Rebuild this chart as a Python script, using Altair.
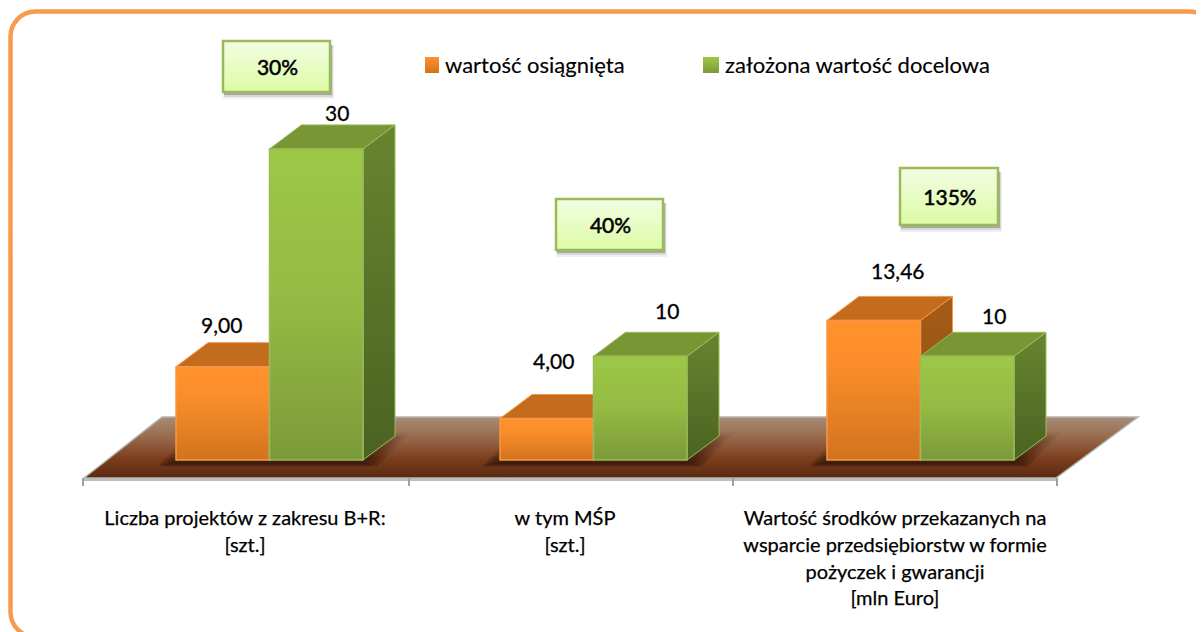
import altair as alt
import pandas as pd

# ---------- data ----------
CATEGORIES = [
    ["Liczba projektów z zakresu B+R:", "[szt.]"],
    ["w tym MŚP", "[szt.]"],
    ["Wartość środków przekazanych na", "wsparcie przedsiębiorstw w formie", "pożyczek i gwarancji", "[mln Euro]"],
]
ACHIEVED = [9.0, 4.0, 13.46]
TARGET = [30, 10, 10]
ACHIEVED_LABELS = ["9,00", "4,00", "13,46"]
TARGET_LABELS = ["30", "10", "10"]
PERCENT = ["30%", "40%", "135%"]
LEGEND = ["wartość osiągnięta", "założona wartość docelowa"]

# ---------- layout (page pixels) ----------
W, H = 1188, 624
BASE_Y = 460.0
PX_PER_UNIT = 10.37
GROUP_LEFT = [176.0, 500.0, 827.0]
BAR_W = 93.5
DX, DY = 32.0, 24.0
TICKS = [83, 409, 733, 1057]
FONT = "Lato"


def v(py):
    return (BASE_Y - py) / PX_PER_UNIT


xs = alt.Scale(domain=[8, 8 + W], range=[0, W], zero=False, nice=False)
ys = alt.Scale(domain=[v(8 + H), v(8)], range=[H, 0], zero=False, nice=False)


def enc(x2=False, y2=False, **kw):
    e = dict(x=alt.X("x:Q", scale=xs, axis=None), y=alt.Y("y:Q", scale=ys, axis=None))
    if x2:
        e["x2"] = alt.X2("x2:Q")
    if y2:
        e["y2"] = alt.Y2("y2:Q")
    e.update(kw)
    return e


def grad(*stops):
    return alt.Gradient(
        gradient="linear", x1=0, x2=0, y1=0, y2=1,
        stops=[alt.GradientStop(offset=o, color=c) for o, c in stops],
    )


def poly(points, **mark):
    df = pd.DataFrame(points, columns=["x", "y", "y2"])
    return alt.Chart(df).mark_area(**mark).encode(**enc(y2=True))


def rect(x0, x1, y0, y1, **mark):
    df = pd.DataFrame([dict(x=x0, x2=x1, y=y0, y2=y1)])
    return alt.Chart(df).mark_rect(**mark).encode(**enc(x2=True, y2=True))


def text(x, y, s, **mark):
    df = pd.DataFrame([dict(x=x, y=y, t=s)])
    opts = dict(font=FONT, color="black", baseline="middle", align="center")
    opts.update(mark)
    return alt.Chart(df).mark_text(**opts).encode(**enc(), text="t:N")


layers = []

# rounded frame, running past the picture's right and bottom edges
layers.append(rect(10.5, 1214, v(11.5), v(637), fill="white", stroke="#F79B4C",
                   strokeWidth=4.5, cornerRadius=25, clip=True))

# floor
FT, FB = v(417), v(478)
layers.append(poly([(84, FB, FB), (162, FT, FB), (1056, FT, FB), (1138, FT, FT)],
                   fill=grad((0, "#A88C78"), (0.3, "#9A6E50"), (0.7, "#7A3C1C"), (1, "#5A2A12")),
                   stroke="#B4B4B4", strokeWidth=1.5))

# floor shadows: nested, faint layers give the soft edge
for left in GROUP_LEFT:
    r = left + 2 * BAR_W
    for grow in (12, 8, 4, 0):
        a, b = v(464 + grow * 0.2), v(437 - grow * 0.4)
        layers.append(poly([(left - 6 - grow, a, a), (left + 26 - grow, b, a), (r + 2 + grow, b, a), (r + 36 + grow, b, b)],
                           fill=grad((0, "rgba(50,22,8,0.04)"), (0.6, "rgba(50,22,8,0.16)"),
                                     (1, "rgba(50,22,8,0.38)"))))

# axis line and ticks
layers.append(rect(83, 1057, FB, v(481), fill="#BDBDBD"))
for t in TICKS:
    layers.append(rect(t - 1, t + 1, v(478), v(486), fill="#A0A0A0"))


# bars
def bars(values, offset, face, top, side, edge):
    out = []
    for left, val in zip(GROUP_LEFT, values):
        x0 = left + offset
        x1 = x0 + BAR_W
        d = DY / PX_PER_UNIT
        out.append(poly([(x1, val, 0), (x1 + DX, val + d, d)],
                        fill=grad(*side), stroke=edge, strokeWidth=1))
        out.append(poly([(x0, val, val), (x0 + DX, val + d, val), (x1, val + d, val), (x1 + DX, val + d, val + d)],
                        fill=top, stroke=edge, strokeWidth=1))
        out.append(alt.Chart(pd.DataFrame([dict(x=x0, x2=x1, y=val, y2=0)]))
                   .mark_rect(fill=grad(*face), stroke=edge, strokeWidth=1.5)
                   .encode(**enc(x2=True, y2=True)))
    return out


layers += bars(ACHIEVED, 0,
               [(0, "#FF922B"), (0.3, "#FB8E2A"), (1, "#D2731F")], "#C36C1D",
               [(0, "#A65C17"), (1, "#8C4C12")], "#F79646")
layers += bars(TARGET, BAR_W,
               [(0, "#9DC847"), (0.5, "#94BA43"), (1, "#7B9A3A")], "#789633",
               [(0, "#678530"), (1, "#4A6322")], "#9BBB59")

# value labels
LABEL_SHIFT_A = [(-1, -40), (7, -56), (24, -47)]
LABEL_SHIFT_T = [(21, -34), (27, -43), (27, -38)]
for left, val, lab, (dx, dy) in zip(GROUP_LEFT, ACHIEVED, ACHIEVED_LABELS, LABEL_SHIFT_A):
    layers.append(text(left + BAR_W / 2, val, lab, fontSize=21, dx=dx, dy=dy, stroke="black", strokeWidth=0.3))
for left, val, lab, (dx, dy) in zip(GROUP_LEFT, TARGET, TARGET_LABELS, LABEL_SHIFT_T):
    layers.append(text(left + 1.5 * BAR_W, val, lab, fontSize=21, dx=dx, dy=dy, stroke="black", strokeWidth=0.3))

# percent callouts
BOXES = [(223, 330, 41, 92), (556, 663, 199, 250), (900, 998, 168, 225)]
for (x0, x1, y0, y1), p in zip(BOXES, PERCENT):
    layers.append(rect(x0, x1 + 4, v(y0 + 4), v(y1 + 7), fill="#000000", opacity=0.06))
    layers.append(rect(x0 + 1, x1 + 3, v(y0 + 4), v(y1 + 5), fill="#000000", opacity=0.10))
    layers.append(rect(x0 + 1, x1 + 2, v(y0 + 4), v(y1 + 3), fill="#000000", opacity=0.22))
    layers.append(rect(x0, x1, v(y0), v(y1), fill=grad((0, "#F3FDE2"), (1, "#DCFBA6")),
                       stroke="#9BBB59", strokeWidth=2.5))
    layers.append(text((x0 + x1) / 2 + 1, v((y0 + y1) / 2 + 2), p, fontSize=21, stroke="black", strokeWidth=0.55))

# legend
layers.append(rect(425, 439, v(57), v(73), fill=grad((0, "#FF922B"), (1, "#D2731F"))))
layers.append(text(445, v(66), LEGEND[0], fontSize=22, align="left", stroke="black", strokeWidth=0.15))
layers.append(rect(703, 719, v(57), v(73), fill=grad((0, "#9DC847"), (1, "#7B9A3A"))))
layers.append(text(725, v(66), LEGEND[1], fontSize=22, align="left", stroke="black", strokeWidth=0.15))

# category labels
CENTERS = [245, 565, 895]
LINE_Y = 519
LINE_H = 26.8
for c, lines in zip(CENTERS, CATEGORIES):
    for i, s in enumerate(lines):
        layers.append(text(c, v(LINE_Y + i * LINE_H), s, fontSize=20, stroke="black", strokeWidth=0.25))

chart = alt.layer(*layers).properties(
    width=W, height=H, padding=0, background="white",
    autosize=alt.AutoSizeParams(type="none"),
).configure_view(stroke=None)

chart.save("out.html", embed_options={"renderer": "svg", "actions": False})
